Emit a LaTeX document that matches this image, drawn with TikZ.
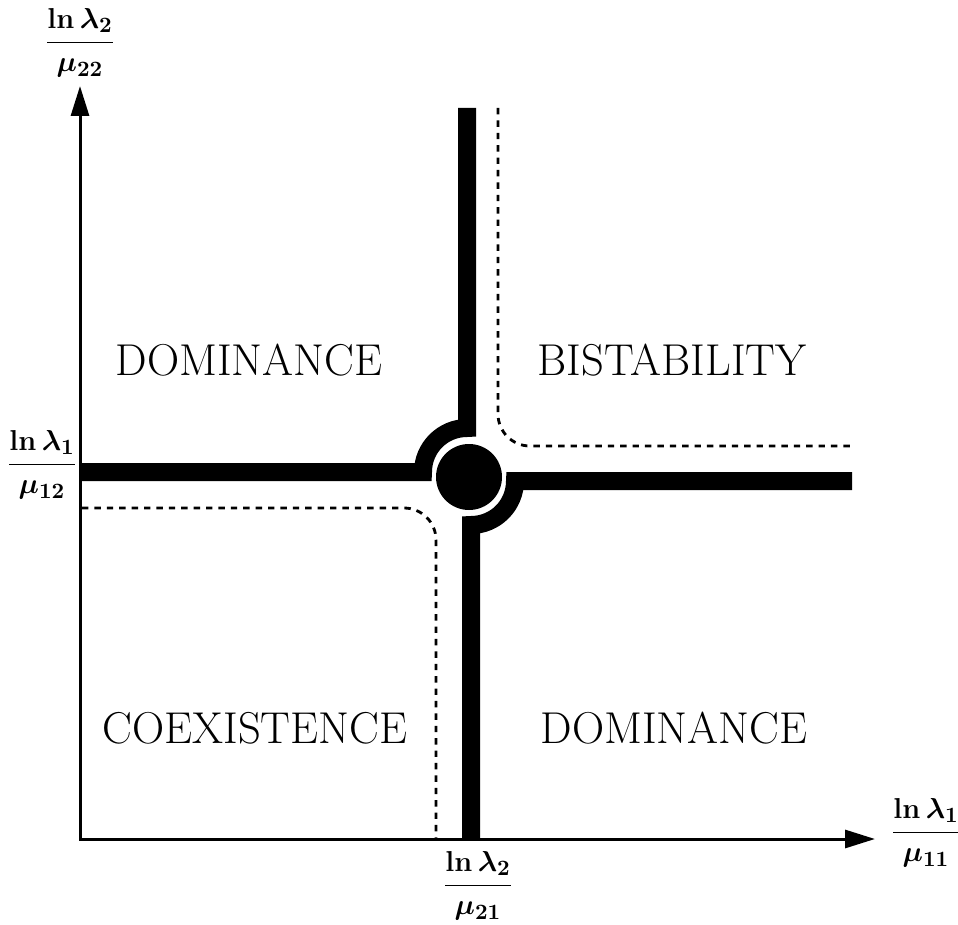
\documentclass[tikz,border=0pt]{standalone}
\usepackage{amsmath}
\usetikzlibrary{arrows.meta}
\begin{document}
\begin{tikzpicture}[x=0.5pt,y=-0.5pt,
  axis/.style={line width=1.5pt,-{Triangle[length=15pt,width=9pt]}},
  thickbar/.style={line width=9pt},
  dashline/.style={line width=1.4pt,dash pattern=on 3.2pt off 3pt,rounded corners=16pt},
  region/.style={font=\fontsize{22.3}{26}\selectfont,inner sep=0pt},
  frac/.style={font=\fontsize{15.5}{18}\selectfont\boldmath,inner sep=0pt}]
\useasboundingbox (0,0) rectangle (958,925);
% axes
\coordinate (O) at (80,839.75);
\coordinate (Ox) at (79.25,839);
\coordinate (ytip) at (80,86);
\coordinate (xtip) at (875,839);
\draw[axis] (O) -- (ytip);
\draw[axis] (Ox) -- (xtip);
% centre disc
\node[circle,fill,minimum size=33pt,inner sep=0pt] (c) at (469,477) {};
% thick boundaries
\draw[thickbar] (81,472) -- (423,472) arc[start angle=180,end angle=270,radius=44] -- (467,108);
\draw[thickbar] (852,481) -- (515,481) arc[start angle=0,end angle=90,radius=44] -- (471,838);
% dashed boundaries
\draw[dashline] (498,108) -- (498,446) -- (852,446);
\draw[dashline] (82,508) -- (436,508) -- (436,838);
% region labels
\node[region] (dom1) at (249,360) {DOMINANCE};
\node[region] (bis) at (672,360) {BISTABILITY};
\node[region] (coex) at (255,728) {COEXISTENCE};
\node[region] (dom2) at (674,728) {DOMINANCE};
% axis labels
\node[frac] (ly) at (80,43) {$\dfrac{\ln\lambda_2}{\mu_{22}}$};
\node[frac] (l12) at (42,465) {$\dfrac{\ln\lambda_1}{\mu_{12}}$};
\node[frac] (l21) at (478,886) {$\dfrac{\ln\lambda_2}{\mu_{21}}$};
\node[frac] (lx) at (926,833) {$\dfrac{\ln\lambda_1}{\mu_{11}}$};
\end{tikzpicture}
\end{document}
